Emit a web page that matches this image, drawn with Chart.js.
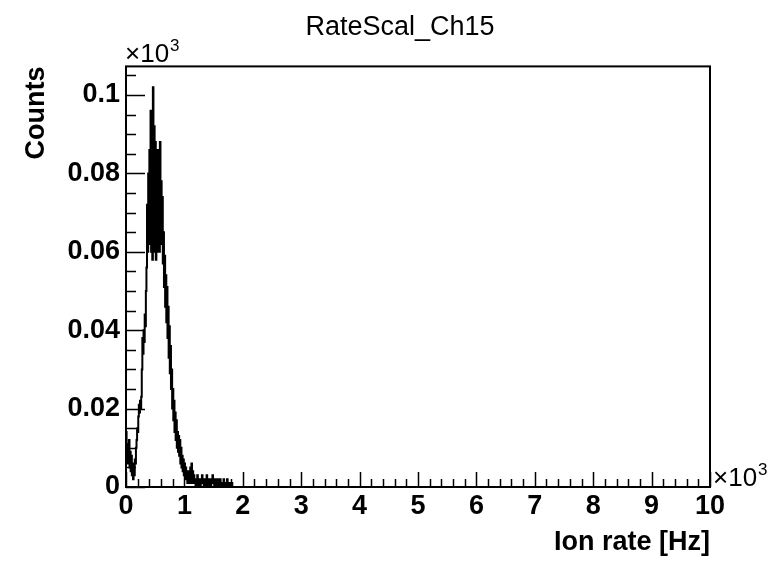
<!DOCTYPE html>
<html>
<head>
<meta charset="utf-8">
<title>RateScal_Ch15</title>
<script src="https://cdn.jsdelivr.net/npm/chart.js@4.4.1/dist/chart.umd.min.js"></script>
<style>
  html, body { margin: 0; padding: 0; background: #fff; }
  #wrap { width: 778px; height: 562px; }
</style>
</head>
<body>
<div id="wrap"><canvas id="rateChart" width="778" height="562"></canvas></div>
<script>
// ===== data (histogram, 10 Hz bins, counts) =====
// lower bin edge in Hz, last entry closes the histogram at the axis end
const binLowHz = [
  0, 10, 20, 30, 40, 50, 60, 70, 80, 90,
  100, 110, 120, 130, 140, 150, 160, 170, 180, 190,
  200, 210, 220, 230, 240, 250, 260, 270, 280, 290,
  300, 310, 320, 330, 340, 350, 360, 370, 380, 390,
  400, 410, 420, 430, 440, 450, 460, 470, 480, 490,
  500, 510, 520, 530, 540, 550, 560, 570, 580, 590,
  600, 610, 620, 630, 640, 650, 660, 670, 680, 690,
  700, 710, 720, 730, 740, 750, 760, 770, 780, 790,
  800, 810, 820, 830, 840, 850, 860, 870, 880, 890,
  900, 910, 920, 930, 940, 950, 960, 970, 980, 990,
  1000, 1010, 1020, 1030, 1040, 1050, 1060, 1070, 1080, 1090,
  1100, 1110, 1120, 1130, 1140, 1150, 1160, 1170, 1180, 1190,
  1200, 1210, 1220, 1230, 1240, 1250, 1260, 1270, 1280, 1290,
  1300, 1310, 1320, 1330, 1340, 1350, 1360, 1370, 1380, 1390,
  1400, 1410, 1420, 1430, 1440, 1450, 1460, 1470, 1480, 1490,
  1500, 1510, 1520, 1530, 1540, 1550, 1560, 1570, 1580, 1590,
  1600, 1610, 1620, 1630, 1640, 1650, 1660, 1670, 1680, 1690,
  1700, 1710, 1720, 1730, 1740, 1750, 1760, 1770, 1780, 1790,
  1800, 1810, 1820, 10000
];
const binCounts = [
  14, 9, 6, 11, 8, 12, 5, 9, 4, 8,
  3, 6, 2, 5, 3, 7, 6, 10, 12, 15,
  14, 18, 21, 19, 22, 20, 23, 30, 38, 34,
  40, 37, 44, 41, 50, 56, 72, 60, 80, 62,
  86, 64, 96, 60, 90, 58, 102, 62, 92, 60,
  88, 58, 84, 60, 86, 62, 82, 60, 88, 64,
  78, 62, 74, 57, 65, 51, 59, 46, 54, 42,
  51, 38, 46, 33, 41, 29, 36, 25, 30, 20,
  25, 17, 22, 14, 19, 12, 17, 10, 14, 9,
  13, 8, 12, 6, 10, 5, 8, 4, 7, 3,
  6, 2, 5, 3, 4, 1, 3, 2, 4, 1,
  5, 2, 6, 1, 4, 2, 3, 1, 2, 0,
  2, 1, 3, 0, 1, 2, 1, 0, 2, 1,
  3, 1, 2, 0, 1, 2, 1, 0, 3, 1,
  2, 0, 1, 2, 1, 0, 2, 1, 3, 1,
  2, 0, 1, 2, 1, 0, 1, 2, 1, 0,
  1, 2, 0, 1, 1, 0, 1, 2, 0, 1,
  1, 0, 1, 2, 0, 1, 1, 0, 1, 1,
  0, 1, 0, 0
];

// axis ranges (Hz / counts); labels shown in units of 10^3
const xRange = [0, 10000];
const yRange = [0, 107.3];
const xMajorStep = 1000;
const xMinorStep = 200;
const yMajorStep = 20;
const yMinorStep = 5;

const FONT = "'Liberation Sans', Arial, Helvetica, sans-serif";

// ===== ticks inside frame + frame + x10^3 labels (ROOT style) =====
const rootFramePlugin = {
  id: "rootFrame",
  afterDraw(chart) {
    const ctx = chart.ctx;
    const area = chart.chartArea;
    const xs = chart.scales.x;
    const ys = chart.scales.y;

    ctx.save();
    ctx.strokeStyle = "#000";
    ctx.lineWidth = 1.5;

    // x ticks (bottom, pointing up)
    ctx.beginPath();
    for (let v = xs.min; v <= xs.max + 0.001; v += xMinorStep) {
      const px = Math.round(xs.getPixelForValue(v)) + 0.5;
      const len = v % xMajorStep === 0 ? 15 : 8;
      ctx.moveTo(px, area.bottom);
      ctx.lineTo(px, area.bottom - len);
    }
    // y ticks (left, pointing right)
    for (let v = ys.min; v <= ys.max + 0.001; v += yMinorStep) {
      const py = Math.round(ys.getPixelForValue(v)) + 0.5;
      const len = v % yMajorStep === 0 ? 19 : 10;
      ctx.moveTo(area.left, py);
      ctx.lineTo(area.left + len, py);
    }
    ctx.stroke();

    // frame
    ctx.lineWidth = 2;
    ctx.strokeRect(area.left, area.top, area.right - area.left, area.bottom - area.top);

    // x10^3 exponent labels
    ctx.fillStyle = "#000";
    ctx.textBaseline = "alphabetic";
    ctx.textAlign = "left";
    function drawExp(x, y) {
      ctx.font = "26px " + FONT;
      ctx.fillText("\u00d710", x, y);
      const w = ctx.measureText("\u00d710").width;
      ctx.font = "17px " + FONT;
      ctx.fillText("3", x + w + 1, y - 11);
    }
    drawExp(area.left - 1, area.top - 4);
    drawExp(area.right + 3, area.bottom - 1);

    ctx.restore();
  },
};

document.addEventListener("DOMContentLoaded", () => {
  const canvas = document.getElementById("rateChart");
  const ctx = canvas.getContext("2d");

  const points = binLowHz.map((x, i) => ({ x: x, y: binCounts[i] }));

  new Chart(ctx, {
    type: "line",
    data: {
      datasets: [
        {
          label: "RateScal_Ch15",
          data: points,
          stepped: "before",
          borderColor: "#000",
          borderWidth: 2,
          pointRadius: 0,
          fill: false,
          tension: 0,
        },
      ],
    },
    options: {
      responsive: false,
      animation: false,
      devicePixelRatio: 1,
      layout: { padding: { left: 22, right: 0, top: 0, bottom: 0 } },
      plugins: {
        legend: { display: false },
        tooltip: { enabled: false },
        title: {
          display: true,
          text: "RateScal_Ch15",
          color: "#000",
          font: { family: FONT, size: 27, weight: "normal", lineHeight: 1.2 },
          padding: { top: 11, bottom: 23 },
        },
      },
      scales: {
        x: {
          type: "linear",
          min: xRange[0],
          max: xRange[1],
          grid: { display: false, drawTicks: false },
          border: { display: false },
          ticks: {
            stepSize: xMajorStep,
            autoSkip: false,
            maxRotation: 0,
            padding: 3,
            color: "#000",
            font: { family: FONT, size: 27, weight: "bold" },
            callback: (v) => String(v / 1000),
          },
          title: {
            display: true,
            text: "Ion rate [Hz]",
            align: "end",
            color: "#000",
            font: { family: FONT, size: 27, weight: "bold" },
            padding: { top: 0, bottom: 3 },
          },
          afterFit: (scale) => {
            scale.height = 75;
          },
        },
        y: {
          type: "linear",
          position: "left",
          min: yRange[0],
          max: yRange[1],
          grid: { display: false, drawTicks: false },
          border: { display: false },
          ticks: {
            stepSize: yMajorStep,
            includeBounds: false,
            padding: 6,
            color: "#000",
            font: { family: FONT, size: 27, weight: "bold" },
            callback: (v) => String(Math.round(v) / 1000),
          },
          title: {
            display: true,
            text: "Counts",
            align: "end",
            color: "#000",
            font: { family: FONT, size: 27, weight: "bold", lineHeight: 1 },
            padding: { top: 1, bottom: 0 },
          },
          afterFit: (scale) => {
            scale.width = 104;
          },
        },
        // empty right box, only keeps the frame where the reference has it
        yRight: {
          type: "linear",
          position: "right",
          display: true,
          grid: { display: false, drawTicks: false },
          border: { display: false },
          ticks: { display: false },
          afterFit: (scale) => {
            scale.width = 68;
          },
        },
      },
    },
    plugins: [rootFramePlugin],
  });
});
</script>
</body>
</html>
